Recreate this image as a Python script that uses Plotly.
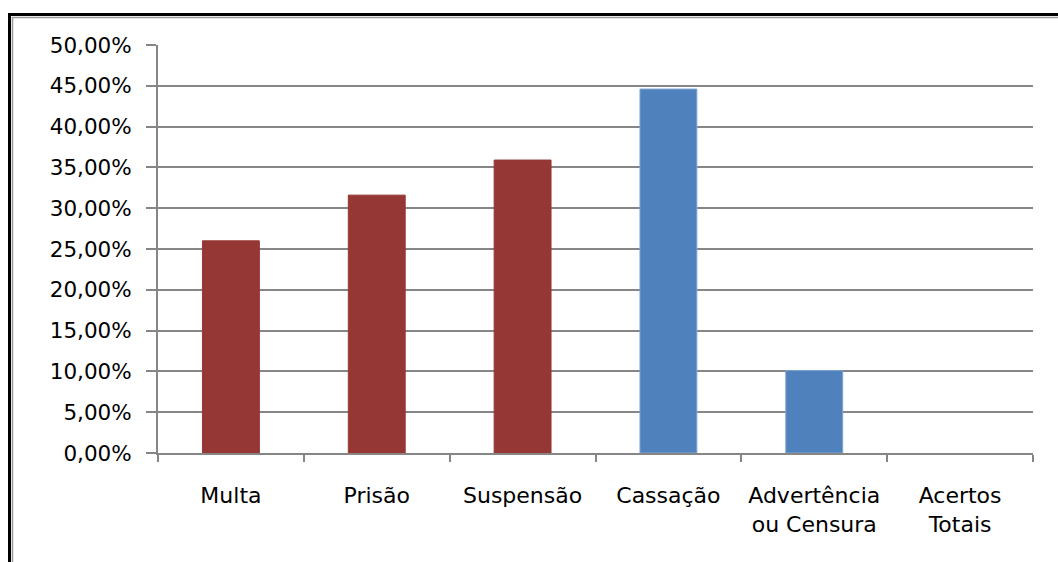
import plotly.graph_objects as go

# Share of answers per sanction category
categories = ["Multa", "Prisão", "Suspensão", "Cassação", "Advertência<br>ou Censura", "Acertos<br>Totais"]
values = [26.0, 31.6, 35.9, 44.6, 10.1, 0.0]
y_ticks = [0, 5, 10, 15, 20, 25, 30, 35, 40, 45, 50]
y_tick_labels = ["0,00%", "5,00%", "10,00%", "15,00%", "20,00%", "25,00%",
                 "30,00%", "35,00%", "40,00%", "45,00%", "50,00%"]

RED = "#953735"
BLUE = "#4F81BD"
bar_colors = [RED, RED, RED, BLUE, BLUE, BLUE]
# light outline on the blue bars; empty bars get no outline
bar_lines = [RED if c == RED else "#7EA4D4" for c in bar_colors]
bar_line_widths = [1 if v > 0 else 0 for v in values]
GRID = "#868686"

W, H = 1058, 562
ML, MR, MT, MB = 158, 25, 45, 109
PW, PH = W - ML - MR, H - MT - MB


def px_x(x):
    return (x - ML) / PW


def px_y(y):
    return 1 - (y - MT) / PH


fig = go.Figure(
    go.Bar(
        x=categories,
        y=values,
        width=0.39,
        marker=dict(color=bar_colors,
                    line=dict(color=bar_lines, width=bar_line_widths)),
        hoverinfo="skip",
    )
)

# Double frame around the whole chart (black outer, grey inner)
shapes = [
    dict(type="rect", xref="paper", yref="paper",
         x0=px_x(9.5), x1=px_x(1075), y0=px_y(14.5), y1=px_y(600),
         line=dict(color="#000000", width=3), layer="below"),
    dict(type="rect", xref="paper", yref="paper",
         x0=px_x(12.5), x1=px_x(1072), y0=px_y(17.5), y1=px_y(597),
         line=dict(color="#9A9A9A", width=1.5), layer="below"),
]

fig.update_layout(
    width=W,
    height=H,
    margin=dict(l=ML, r=MR, t=MT, b=MB, pad=0),
    paper_bgcolor="white",
    plot_bgcolor="white",
    showlegend=False,
    shapes=shapes,
    font=dict(family="DejaVu Sans", size=21, color="#000000"),
)

fig.update_xaxes(
    type="category",
    showgrid=False,
    showline=True,
    linecolor=GRID,
    linewidth=2,
    ticks="outside",
    tickson="boundaries",
    ticklen=7,
    tickwidth=2,
    tickcolor=GRID,
    ticklabelstandoff=22,
    tickfont=dict(family="DejaVu Sans", size=22, color="#000000"),
    fixedrange=True,
)

fig.update_yaxes(
    range=[0, 50],
    tickvals=y_ticks,
    ticktext=y_tick_labels,
    showgrid=True,
    gridcolor=GRID,
    gridwidth=2,
    zeroline=False,
    showline=True,
    linecolor=GRID,
    linewidth=2,
    ticks="outside",
    ticklen=10,
    tickwidth=2,
    tickcolor=GRID,
    ticklabelstandoff=10,
    tickfont=dict(family="DejaVu Sans", size=21.5, color="#000000"),
    fixedrange=True,
)

fig.write_html("out.html", config={"displayModeBar": False})
